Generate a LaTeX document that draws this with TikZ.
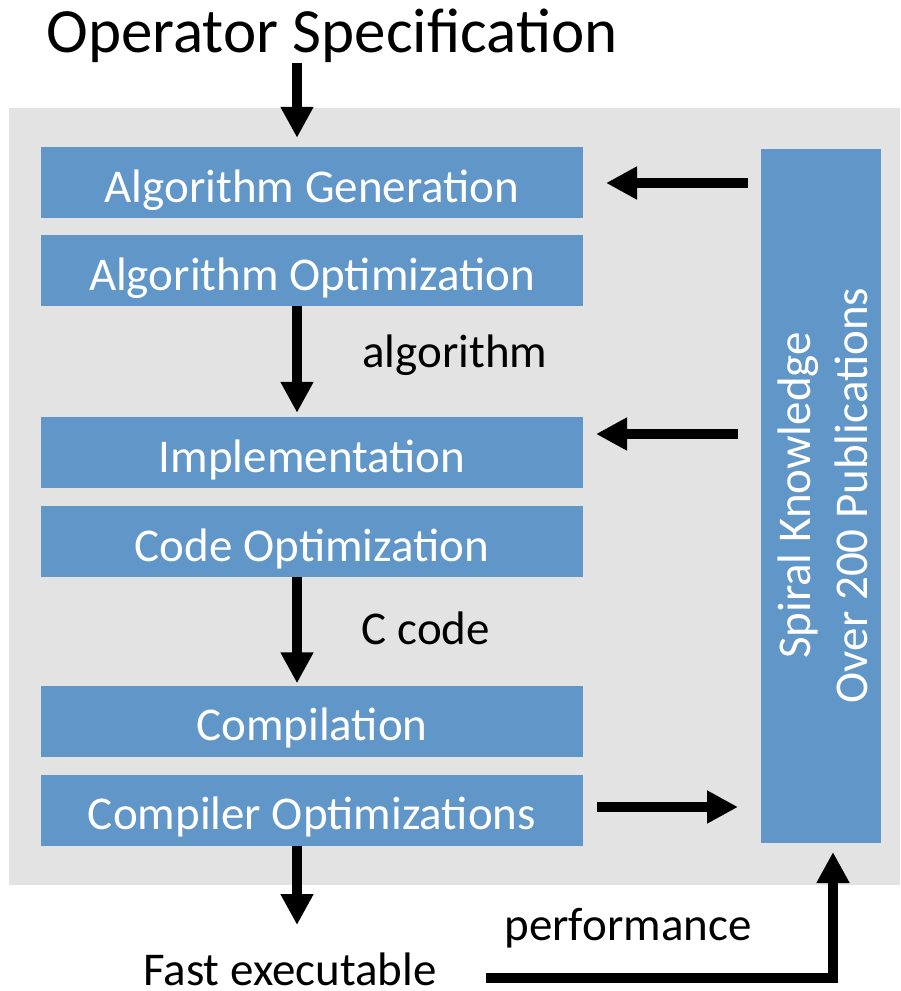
\documentclass[tikz,border=0pt]{standalone}
\usepackage{fontspec}
\setmainfont{Carlito}
\usetikzlibrary{arrows.meta,calc}
\definecolor{boxblue}{RGB}{97,150,200}
\definecolor{bggrey}{RGB}{227,227,227}
\begin{document}
\begin{tikzpicture}[x=1pt,y=-1pt,
  stage/.style={fill=boxblue,text=white,minimum width=542pt,minimum height=71pt,inner sep=0pt,text height=39pt,text depth=0pt,font=\fontsize{47}{54}\selectfont},
  lbl/.style={font=\fontsize{47}{54}\selectfont,inner sep=0pt},
  arr/.style={line width=10pt,-{Triangle[length=31pt,width=31pt]}}]
\useasboundingbox (0,0) rectangle (900,991);
\fill[bggrey] (9,108) rectangle (900,885);
\node[lbl,font=\fontsize{63}{70}\selectfont,anchor=base] (spec) at (332,52) {Operator Specification};
\node[stage] (AG) at (312,182.5) {Algorithm Generation};
\node[stage] (AO) at (312,270.5) {Algorithm Optimization};
\node[stage] (IM) at (312,452.5) {Implementation};
\node[stage] (CO) at (312,541.5) {Code Optimization};
\node[stage] (CP) at (312,721) {Compilation};
\node[stage] (CX) at (312,810) {Compiler Optimizations};
\node[fill=boxblue,text=white,minimum width=120pt,minimum height=694pt,inner sep=0pt] (K) at (821,495.5) {};
\node[rotate=90,text=white,align=center,font=\fontsize{47}{57}\selectfont] (Ktext) at ($(K.center)+(2,0)$) {Spiral Knowledge\\Over 200 Publications};
\node[lbl,anchor=base] (alg) at (455,367) {algorithm};
\node[lbl,anchor=base] (cc) at (426,644) {C code};
\node[lbl,anchor=base,text depth=0pt] (fe) at (290,985) {Fast executable};
\node[lbl,anchor=base] (perf) at (628,940) {performance};
% connectors
\coordinate (t1) at (297,63);
\draw[arr] (t1) -- (t1 |- AG.north) [shorten >=9pt];
\draw[arr,shorten >=4pt] (AO.south -| t1) -- (IM.north -| t1);
\draw[arr,shorten >=2pt] (CO.south -| t1) -- (CP.north -| t1);
\coordinate (b1) at (297,925);
\draw[arr] (CX.south -| t1) -- (b1);
\coordinate (r1) at (748,183);
\coordinate (r1t) at (606,183);
\draw[arr] (r1) -- (r1t);
\coordinate (r2) at (738,434);
\coordinate (r2t) at (596,434);
\draw[arr] (r2) -- (r2t);
\coordinate (r3) at (597,807);
\coordinate (r3t) at (738,807);
\draw[arr] (r3) -- (r3t);
\coordinate (p1) at (486,978);
\coordinate (p2) at (833,978);
\coordinate (p3) at (833,852);
\draw[arr] (p1) -- (p2) -- (p3);
\end{tikzpicture}
\end{document}
